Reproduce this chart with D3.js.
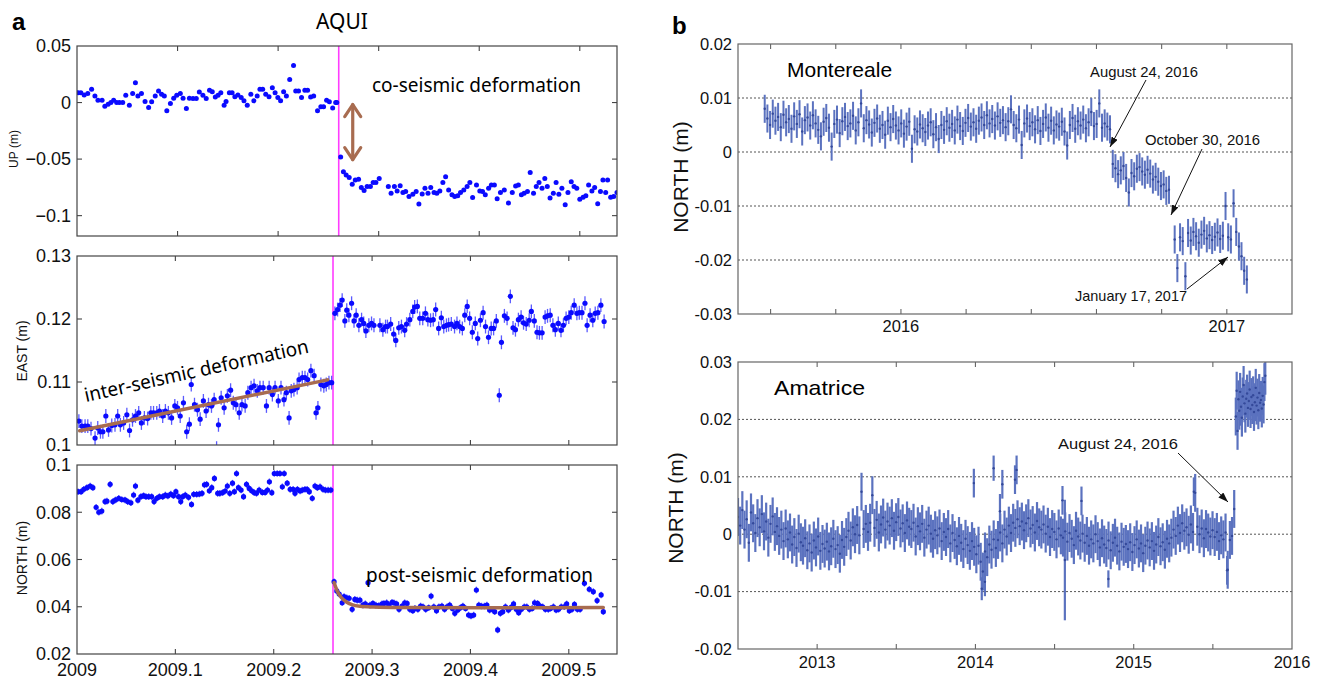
<!DOCTYPE html>
<html><head><meta charset="utf-8">
<script src="https://cdn.jsdelivr.net/npm/d3@7"></script>
<style>body{margin:0;background:#fff}svg{display:block}</style>
</head><body><svg id="c" width="1317" height="681"></svg>
<script>
// ---------------- DATA ----------------
// Panel a (AQUI, 2009): day-of-year and value (mm)
const aquiEventDay = 95;
const upPreDay = [0.4,1.4,2.6,3.9,5.3,6.5,7.6,9.1,10.1,11.3,12.3,13.3,14.4,15.4,16.6,17.7,19.0,20.2,21.2,22.1,23.4,24.7,26.0,27.1,28.4,29.6,30.7,31.7,32.6,33.9,35.1,36.2,37.5,38.5,39.7,40.8,42.1,43.3,44.4,45.7,46.9,48.1,49.1,50.2,51.2,52.2,53.4,54.1,55.3,56.3,57.3,58.4,59.6,60.6,61.8,63.1,64.2,65.4,66.4,67.4,68.5,69.7,70.9,71.9,72.9,73.9,75.0,76.0,77.2,78.6,79.4,80.4,81.5,82.7,83.7,84.8,85.9,87.3,88.5,89.5,90.6,91.6,92.8,93.9,94.3];
const upPreMm = [8.7,8.7,6.7,7.9,11.7,5.8,2.0,2.0,-3.2,-1.5,0,2.0,0,0,0,6.4,-2.3,7.9,17.5,5.8,7.9,0.9,-4.4,0.6,5.8,10.2,7.3,5.8,-7.3,-0.9,3.8,6.4,7.9,3.8,-5.2,3.8,3.5,3.5,9.3,6.4,3.5,10.8,9.6,5.0,6.4,8.7,-2.3,0.9,8.7,8.7,5.2,6.7,4.4,1.5,-2.3,7.3,1.5,5.8,11.7,11.7,7.3,5.2,13.1,8.7,4.4,1.5,9.6,5.8,20.4,32.7,10.2,10.2,4.4,10.8,10.8,5.0,5.8,-7.3,-3.8,-3.8,2.0,0.6,-4.9,0,0];
const upPostDay = [95.7,96.7,97.7,98.8,99.9,101.0,102.2,103.2,104.2,105.3,106.5,107.5,108.5,109.7,113.0,114.0,115.2,116.2,117.3,118.3,119.3,120.5,121.9,123.1,124.1,125.3,126.3,127.4,128.4,129.6,130.6,131.7,132.8,133.8,134.9,136.1,137.1,138.2,139.2,140.4,141.6,142.6,143.6,145.0,146.2,147.2,148.2,149.4,150.4,151.5,152.5,153.7,155.1,156.6,158.0,159.2,160.2,161.3,162.3,163.5,164.5,165.7,166.7,167.7,168.8,169.8,170.7,171.7,172.9,173.9,174.9,176.0,177.2,178.2,179.4,180.4,181.4,182.5,183.7,184.7,185.7,186.9,187.9,189.0,190.0,190.9,191.9,192.6,193.7,194.8,196.0];
const upPostMm = [-48.1,-61.2,-64.1,-66.2,-72.3,-68.5,-67.9,-75.2,-77.8,-74.3,-74.3,-70.8,-70.8,-67.1,-74.3,-80.2,-74.3,-78.1,-73.5,-79.6,-78.7,-83.1,-81.0,-78.7,-89.8,-80.8,-75.8,-80.2,-75.2,-79.6,-80.2,-78.1,-70.8,-65.6,-77.3,-81.6,-83.1,-82.5,-79.6,-77.3,-74.3,-70.8,-84.0,-72.9,-78.1,-78.7,-81.6,-75.8,-72.9,-72.9,-85.1,-79.6,-77.3,-88.9,-79.6,-73.8,-72.9,-81.6,-80.2,-78.7,-61.8,-80.2,-74.3,-70.8,-75.8,-67.1,-74.3,-84.5,-80.2,-70.8,-81.0,-75.8,-90.4,-79.6,-70.0,-74.3,-75.8,-85.4,-83.7,-82.5,-72.9,-78.1,-75.2,-89.5,-78.7,-68.5,-79.6,-68.5,-83.7,-83.1,-79.6];

const eastPreDay = [0.7,1.8,3.0,4.0,5.2,6.7,7.7,8.7,9.6,10.7,11.7,12.9,14.1,15.1,16.1,17.3,18.5,19.5,20.6,21.7,22.9,23.9,25.0,26.2,27.4,28.4,29.6,30.6,31.8,32.8,33.9,35.1,36.3,37.3,38.3,39.5,40.7,41.7,42.4,43.6,44.7,45.7,46.9,47.9,48.8,49.9,50.9,51.8,52.5,53.5,54.6,55.8,57.0,58.0,59.0,60.2,61.2,62.4,63.4,64.6,65.7,66.9,67.9,69.1,70.3,71.3,72.5,73.5,74.7,75.7,76.8,77.7,78.7,79.5,80.5,81.7,82.4,83.6,84.6,85.6,86.8,88.0,88.7,89.4,90.5,91.6,92.5,93.5,94.5];
const eastPreMm = [103.8,103.0,103.0,103.0,102.6,101.1,102.7,102.1,102.1,104.6,102.4,103.1,103.2,104.6,103.2,103.5,104.8,102.3,104.0,104.6,105.1,103.5,104.3,104.2,105.1,105.1,105.1,105.4,104.6,105.4,105.1,104.3,106.2,105.9,104.6,106.7,102.1,103.3,109.6,106.4,105.6,104.1,107.0,105.4,106.4,106.2,107.2,99.5,103.2,107.5,105.9,107.8,108.7,106.7,106.4,105.1,106.4,106.2,108.3,109.1,109.4,108.6,109.1,109.1,106.2,109.1,108.0,109.1,107.0,109.1,107.2,108.3,104.3,108.6,108.8,109.1,110.4,110.7,110.7,110.4,111.8,111.0,105.1,105.9,109.6,109.4,109.6,109.9,109.9];
const eastPostDay = [95.7,96.7,97.6,98.4,99.4,100.1,100.9,101.9,102.8,103.6,104.6,105.6,106.4,107.2,108.3,109.3,110.2,112.4,113.5,114.5,115.2,116.4,117.5,118.3,119.4,120.4,121.6,122.3,123.5,124.6,125.3,126.3,127.2,128.3,129.3,130.2,131.2,132.2,133.1,134.2,135.2,136.1,137.1,137.9,138.9,140.1,141.0,142.0,143.0,143.9,144.8,145.7,146.7,147.8,148.7,149.7,150.7,151.6,152.7,153.7,154.6,155.6,156.7,157.5,158.6,159.6,160.8,161.8,162.7,163.8,164.8,165.7,166.7,167.8,168.6,169.7,170.7,171.6,172.6,173.7,174.6,175.6,176.6,177.5,178.6,179.6,180.5,181.5,182.5,183.4,184.5,185.5,186.4,187.4,188.5,189.3,190.4,191.4,192.3,193.3,194.4,195.6];
const eastPostMm = [120.9,121.5,122.2,123.0,119.7,121.4,120.6,122.5,119.7,120.6,119.0,119.9,119.3,118.1,119.0,119.3,119.0,119.0,118.3,118.8,118.8,119.2,117.6,116.6,118.6,118.8,118.2,119.2,119.9,121.2,121.9,122.0,120.1,120.1,120.9,119.9,119.8,119.9,121.5,118.5,120.2,118.8,119.0,119.1,119.2,118.8,119.3,118.8,118.5,120.6,122.0,120.1,117.9,119.3,116.9,119.8,121.0,118.8,117.1,118.5,118.5,119.7,107.9,116.3,120.5,120.1,123.6,118.6,118.3,119.9,120.3,119.4,119.2,119.8,121.2,119.7,117.9,117.8,117.8,120.3,120.5,120.6,119.0,118.3,119.3,118.2,119.0,120.1,120.3,121.0,122.2,120.9,121.0,121.0,122.5,119.0,120.6,119.8,120.9,121.0,122.2,119.6];
const eastTrendDay = [1.0, 93.0];
const eastTrendMm = [102.25, 110.34];

const northPreDay = [0.4,1.5,2.5,3.7,4.9,5.9,7.1,8.1,9.2,10.4,11.1,12.3,13.3,14.3,15.5,16.6,17.8,18.8,20.0,21.0,21.7,22.6,23.7,24.7,25.6,26.6,27.7,28.6,29.6,30.6,31.8,32.8,33.7,34.8,35.8,36.7,37.7,38.5,39.2,40.2,41.4,42.5,43.3,44.4,45.4,46.4,47.3,48.1,49.1,50.0,51.0,52.2,53.0,54.0,55.0,55.8,56.7,57.7,58.4,59.2,59.9,60.9,61.8,62.9,63.9,64.8,65.8,66.6,67.6,68.8,69.8,70.7,71.4,72.3,73.2,74.3,75.3,76.2,76.9,78.0,79.1,80.2,80.9,81.8,82.8,83.6,84.6,85.4,86.2,87.3,88.3,89.2,90.2,91.3,92.2,93.2,94.2];
const northPreMm = [88.7,88.7,89.7,90.4,91.1,90.4,82.1,80.0,80.5,84.5,84.7,91.8,84.5,85.2,85.9,85.4,85.2,84.5,84.0,87.3,91.1,85.1,86.6,87.0,86.6,86.6,86.6,84.5,85.9,86.6,86.6,87.3,86.9,87.7,87.0,88.7,86.6,84.5,86.6,87.3,86.3,83.3,87.6,87.6,87.7,88.0,91.6,91.8,89.1,90.4,94.3,88.0,88.0,88.3,89.0,91.1,88.0,92.3,88.7,96.4,90.4,89.4,86.6,91.8,90.1,89.1,88.3,88.0,89.4,88.4,88.4,89.4,92.9,88.3,96.4,96.4,96.4,90.8,96.4,92.3,89.7,89.7,88.0,89.7,89.0,89.4,89.7,89.7,88.7,85.9,91.1,90.4,90.8,89.7,89.4,89.4,89.4];
const northPostDay = [95.4,96.4,97.3,98.4,99.1,100.1,101.0,102.1,103.1,104.0,105.0,106.1,107.0,108.0,108.7,109.8,110.9,112.0,113.2,113.9,114.9,115.8,116.9,117.6,118.6,119.5,120.6,121.6,122.5,123.5,124.6,125.4,126.5,127.5,128.4,129.4,130.5,131.4,132.4,133.4,134.3,135.4,136.4,137.3,138.3,139.3,140.2,141.3,142.3,143.2,144.2,145.3,146.2,147.2,148.2,149.1,150.1,151.2,152.1,153.1,154.1,155.0,156.1,157.1,158.0,159.0,160.1,160.9,162.0,163.0,163.9,164.9,166.0,166.9,167.9,168.9,169.8,170.9,171.9,172.8,173.8,174.9,175.7,176.8,177.8,178.7,179.7,180.8,181.7,182.7,183.7,184.6,185.7,186.7,188.3,190.1,191.6,193.0,194.5,195.3];
const northPostMm = [50.6,46.7,45.4,41.7,44.3,43.8,43.6,38.9,43.1,42.8,42.8,40.7,41.2,50.2,40.7,41.4,40.7,40.5,41.2,41.4,41.7,40.7,41.9,41.7,41.2,38.9,40.3,41.7,41.4,38.9,38.3,39.3,38.9,40.3,40.0,38.9,39.6,44.5,40.0,38.3,40.0,40.3,38.9,40.0,40.7,39.3,37.2,38.6,39.6,40.3,39.3,36.5,36.1,36.5,47.1,40.7,40.3,40.3,40.7,38.6,38.9,37.9,30.2,37.2,37.9,40.0,38.6,39.6,41.2,38.9,37.5,38.9,40.0,40.0,38.9,39.3,41.7,41.4,40.3,40.0,38.9,38.9,39.3,40.0,38.6,38.9,40.0,40.0,41.2,38.3,38.9,41.0,38.9,38.9,49.9,47.4,46.4,42.6,45.0,37.9];
const northFitDay = [95.4,96.5,98,100,102,105,110,120,150,195.3];
const northFitMm = [50.2,46.8,44.0,42.0,40.9,40.2,39.9,39.7,39.6,39.7];

const aXTicks = [2009, 2009.1, 2009.2, 2009.3, 2009.4, 2009.5];
const aXLabels = ["2009","2009.1","2009.2","2009.3","2009.4","2009.5"];
const upYTicks = [0.05, 0, -0.05, -0.1];
const upYLabels = ["0.05","0","\u22120.05","\u22120.1"];
const eastYTicks = [0.13, 0.12, 0.11, 0.1];
const eastYLabels = ["0.13","0.12","0.11","0.1"];
const northYTicks = [0.1, 0.08, 0.06, 0.04, 0.02];
const northYLabels = ["0.1","0.08","0.06","0.04","0.02"];

// Panel b: Montereale (mm, every 3 days from each segment start)
const montStart = [2015.582, 2016.65, 2016.84, 2017.045];
const montA = [8.0,6.2,5.0,7.1,5.8,6.5,4.6,6.9,5.5,6.1, 4.3,6.6,5.2,7.0,3.8,5.9,6.4,4.9,6.8,5.3, 4.1,2.9,5.6,6.3,4.5,1.0,5.2,6.0,3.5,5.7, 6.5,4.8,5.3,6.7,4.0,5.5,9.0,4.4,5.9,5.1, 3.6,5.4,6.2,4.3,5.0,3.2,5.8,4.6,6.1,4.9, 4.0,5.3,3.4,4.7,5.6,0.6,4.2,3.8,5.1,4.4, 3.7,4.9,5.5,3.3,4.6,2.4,5.0,4.1,5.7,4.5, 5.2,4.0,6.0,4.8,3.9,5.4,6.3,4.7,5.5,4.3, 5.8,6.4,5.0,6.8,5.3,6.1,4.9,6.6,5.4,5.9, 4.6,5.7,7.9,5.0,4.4,6.0,1.3,5.3,6.2,4.8, 5.5,4.2,5.9,3.9,5.2,6.4,4.5,5.8,4.0,5.1, 4.7,5.6,3.8,1.2,5.0,6.3,4.3,5.7,4.9,6.0, 4.4,5.5,7.4,4.8,5.2,9.0,4.5,5.3,4.7,4.2];
const montB = [-2.2,-3.0,-4.1,-3.4,-2.6,-4.8,-7.5,-3.9,-4.5,-3.1,-2.8,-3.6,-4.2,-3.3,-4.0,-5.1,-4.6,-5.5,-6.3,-6.0,-7.2,-7.0];
const montC = [-16.2,-21.5,-15.8,-16.5,-23.0,-15.0,-16.4,-14.8,-15.6,-16.8,-15.3,-14.6,-16.0,-15.4,-16.3,-15.7,-14.9,-16.1,-15.5,-10.0,-15.8,-16.2,-9.5,-14.8,-17.5];
const montD = [-19.3,-22.0,-23.6];
const montStepDays = 3;
const montSigmaMm = 2.6;
const montXTicks = [2015.6, 2015.8, 2016, 2016.2, 2016.4, 2016.6, 2016.8, 2017];
const montXLabels = ["", "", "2016", "", "", "", "", "2017"];
const montYTicks = [0.02, 0.01, 0, -0.01, -0.02, -0.03];
const montYLabels = ["0.02","0.01","0","-0.01","-0.02","-0.03"];

// Panel b: Amatrice (mm)
const amaLowStart = 2012.5, amaLowStepDays = 5;
const amaLow = [3.0,1.5,4.2,0.8,2.6,-1.5,3.8,1.9,0.2,2.8, 1.2,3.5,0.5,2.2,-0.6,1.8,3.1,0.4,1.4,-0.3, 0.8,-1.2,1.0,-0.9,0.3,-1.8,-0.5,-2.4,0.1,-1.4, -2.0,-0.7,-2.8,-1.6,-3.2,-1.1,-2.3,-0.4,-2.9,-1.7, -2.5,-1.3,-3.0,-2.1,-0.8,-2.6,-1.9,-3.4,-1.0,-2.2, -0.5,0.6,-1.1,1.2,0.0,1.6,-0.2,7.4,0.9,1.8, 0.4,2.0,6.8,1.1,2.5,0.3,1.7,2.9,0.8,2.2, 1.5,2.8,0.6,2.1,3.0,1.0,1.9,0.2,2.4,1.3, 0.9,2.0,-0.4,1.4,0.5,1.8,-0.6,0.8,1.5,0.1, -0.8,0.7,-0.2,1.0,-1.2,0.4,-0.5,0.9,-1.6,0.2, -1.0,-2.1,-0.3,-1.5,-2.6,-0.8,-1.9,-2.9,-1.2,-2.2, -3.5,-2.0,-4.8,-6.5,-3.0,-4.0,-1.8,-2.7,-0.9,-2.4, -1.0,0.3,-1.6,0.8,-0.4,1.5,0.2,2.0,1.1,2.6, 1.4,2.2,0.7,1.9,2.8,1.0,1.6,0.3,2.3,1.2, 0.8,1.7,0.1,1.3,-0.5,0.9,0.4,-0.9,1.0,-0.2, -0.6,0.5,-1.3,0.2,-0.8,-1.9,0.6,-0.4,-1.1,0.1, -1.5,-0.3,-2.0,-0.9,-1.6,0.0,-1.2,-2.3,-0.7,-1.8, -2.4,-1.1,-2.8,-1.5,-0.6,-2.0,-3.0,-1.3,-2.2,-1.7, -2.6,-1.4,-3.1,-1.9,-0.9,-2.5,-1.6,-3.3,-2.0,-1.1, -2.3,-1.2,-2.9,-1.8,-0.5,-2.1,-1.4,-2.7,-0.8,-1.6, -0.6,0.8,-0.3,1.5,0.2,1.9,0.6,1.2,-0.1,1.7, 0.4,7.2,1.3,0.0,1.0,-0.7,0.9,0.3,-0.4,0.7, -0.5,0.4,-1.2,-0.2,-0.9,0.3,-6.2,-1.0,-0.3,4.4];
const amaHighStart = 2015.645, amaHighStepDays = 2;
const amaHigh = [20.5,25.0,18.0,23.5,21.5,24.8,22.2,20.3,24.0,26.0,22.8,21.0,23.6,24.5,22.0,23.2,25.2,21.8,23.9,22.5,24.2,21.3,23.0,25.5,22.4,23.8,21.6,24.6,22.9,23.4,21.9,24.1,22.6,26.5,27.6];
const amaSigmaMm = 3.3;
const amaOutT = [2013.99,2014.04,2014.06,2014.115,2014.155,2014.17,2014.25,2014.26,2014.55,2014.565,2014.67,2014.84,2015.38,2015.59];
const amaOutMm = [8.9,-9.5,-8.3,11.5,4.0,8.7,9.5,11.2,5.9,-4.5,5.8,-7.8,7.4,-6.3];
const amaOutSigmaMm = [2.5,2.0,2.5,2.2,3.0,2.5,2.5,2.5,2.5,10.5,2.5,1.5,2.5,2.5];
const amaXTicks = [2013, 2013.5, 2014, 2014.5, 2015, 2015.5, 2016];
const amaXLabels = ["2013","","2014","","2015","","2016"];
const amaYTicks = [0.03, 0.02, 0.01, 0, -0.01, -0.02];
const amaYLabels = ["0.03","0.02","0.01","0","-0.01","-0.02"];

// ---------------- DRAW ----------------
const svg = d3.select('#c');
const defs = svg.append('defs');
const ARIAL = "'Liberation Sans', Arial, Helvetica, sans-serif";
const NOTO = "'Noto Sans', 'Open Sans', sans-serif";
defs.append('marker').attr('id','ah').attr('viewBox','0 0 10 7').attr('refX',10).attr('refY',3.5)
  .attr('markerWidth',10).attr('markerHeight',7).attr('markerUnits','userSpaceOnUse').attr('orient','auto')
  .append('path').attr('d','M0,0L10,3.5L0,7Z').attr('fill','#111');

const dayToYear = d => 2009 + d/365;
const toPts = (days, mm, s) => days.map((d,i)=>({t:dayToYear(d), v:mm[i]/1000, s:s/1000}));

let clipN = 0;
function frame(o){
  const x = d3.scaleLinear().domain(o.xd).range([o.x0,o.x1]);
  const y = d3.scaleLinear().domain(o.yd).range([o.y1,o.y0]);
  const g = svg.append('g');
  const id = 'clip'+(clipN++);
  defs.append('clipPath').attr('id',id).append('rect')
    .attr('x',o.x0).attr('y',o.y0).attr('width',o.x1-o.x0).attr('height',o.y1-o.y0);
  const tk = o.tick;
  if (o.grid) {
    g.append('g').selectAll('line').data(o.yTicks.filter(v=>v>o.yd[0]+1e-9 && v<o.yd[1]-1e-9)).join('line')
      .attr('x1',o.x0).attr('x2',o.x1).attr('y1',d=>y(d)).attr('y2',d=>y(d))
      .attr('stroke','#555').attr('stroke-width',1).attr('stroke-dasharray','2,2');
  }
  const data = g.append('g').attr('clip-path',`url(#${id})`);
  g.append('rect').attr('x',o.x0).attr('y',o.y0).attr('width',o.x1-o.x0).attr('height',o.y1-o.y0)
    .attr('fill','none').attr('stroke',o.boxColor).attr('stroke-width',1.2);
  const tx = o.xTicks.filter(v=>v>o.xd[0]+1e-9 && v<o.xd[1]-1e-9);
  const ty = o.yTicks.filter(v=>v>o.yd[0]+1e-9 && v<o.yd[1]-1e-9);
  const tg = g.append('g').attr('stroke',o.boxColor).attr('stroke-width',1.1);
  tx.forEach(v=>{
    tg.append('line').attr('x1',x(v)).attr('x2',x(v)).attr('y1',o.y1).attr('y2',o.y1-tk);
    tg.append('line').attr('x1',x(v)).attr('x2',x(v)).attr('y1',o.y0).attr('y2',o.y0+tk);
  });
  if (!o.grid) ty.forEach(v=>{
    tg.append('line').attr('x1',o.x0).attr('x2',o.x0+tk).attr('y1',y(v)).attr('y2',y(v));
    tg.append('line').attr('x1',o.x1).attr('x2',o.x1-tk).attr('y1',y(v)).attr('y2',y(v));
  });
  g.append('g').selectAll('text').data(o.yTicks).join('text')
    .attr('x',o.x0-o.yPad).attr('y',d=>y(d)).attr('dy','0.35em').attr('text-anchor','end')
    .attr('font-family',ARIAL).attr('font-size',o.tickFont).attr('fill','#111')
    .text((d,i)=>o.yLabels[i]);
  if (o.xLabels) {
    g.append('g').selectAll('text').data(o.xTicks).join('text')
      .attr('x',d=>x(d)).attr('y',o.xLabelY).attr('text-anchor','middle')
      .attr('font-family',ARIAL).attr('font-size',o.tickFont).attr('fill','#111')
      .text((d,i)=>o.xLabels[i]);
  }
  return {x,y,g,data};
}

function drawPts(layer, x, y, pts, st){
  if (st.bar) layer.append('g').selectAll('line').data(pts).join('line')
    .attr('x1',d=>x(d.t)).attr('x2',d=>x(d.t)).attr('y1',d=>y(d.v-d.s)).attr('y2',d=>y(d.v+d.s))
    .attr('stroke',st.barColor).attr('stroke-width',st.barW).attr('stroke-opacity',st.barOp||1);
  layer.append('g').selectAll('circle').data(pts).join('circle')
    .attr('cx',d=>x(d.t)).attr('cy',d=>y(d.v)).attr('r',st.r).attr('fill',st.color);
}

// ----- Panel a -----
const AX0 = 77, AX1 = 617;
const aStyleBase = {x0:AX0, x1:AX1, tick:5, boxColor:'#444', yPad:6, tickFont:18, xTicks:aXTicks};
const EV = dayToYear(aquiEventDay);
const MAG = '#ff3cff', BROWN = '#a86c50', BLUE = '#0a0aff', LBLUE = '#5a5aff';

const up = frame(Object.assign({}, aStyleBase, {y0:46, y1:236, xd:[2009,2009.537], yd:[-0.118,0.05], yTicks:upYTicks, yLabels:upYLabels}));
up.data.append('line').attr('x1',up.x(EV)).attr('x2',up.x(EV)).attr('y1',46).attr('y2',236).attr('stroke',MAG).attr('stroke-width',1.6);
drawPts(up.data, up.x, up.y, toPts(upPreDay, upPreMm, 0).concat(toPts(upPostDay, upPostMm, 0)), {r:2.5, color:BLUE});

const east = frame(Object.assign({}, aStyleBase, {y0:256, y1:445, xd:[2009,2009.549], yd:[0.1,0.13], yTicks:eastYTicks, yLabels:eastYLabels}));
east.data.append('line').attr('x1',east.x(EV)).attr('x2',east.x(EV)).attr('y1',256).attr('y2',445).attr('stroke',MAG).attr('stroke-width',1.6);
drawPts(east.data, east.x, east.y, toPts(eastPreDay, eastPreMm, 1.1).concat(toPts(eastPostDay, eastPostMm, 1.1)), {r:2.6, color:BLUE, bar:true, barColor:LBLUE, barW:1.3});
east.data.append('path').datum(eastTrendDay.map((d,i)=>[dayToYear(d), eastTrendMm[i]/1000]))
  .attr('d', d3.line().x(d=>east.x(d[0])).y(d=>east.y(d[1]))).attr('fill','none').attr('stroke',BROWN).attr('stroke-width',3.5).attr('stroke-linecap','round');

const north = frame(Object.assign({}, aStyleBase, {y0:465, y1:654, xd:[2009,2009.549], yd:[0.02,0.1], yTicks:northYTicks, yLabels:northYLabels, xLabels:aXLabels, xLabelY:676}));
north.data.append('line').attr('x1',north.x(EV)).attr('x2',north.x(EV)).attr('y1',465).attr('y2',654).attr('stroke',MAG).attr('stroke-width',1.6);
drawPts(north.data, north.x, north.y, toPts(northPreDay, northPreMm, 1.4).concat(toPts(northPostDay, northPostMm, 1.4)), {r:2.6, color:BLUE, bar:true, barColor:LBLUE, barW:1.3});
north.data.append('path').datum(northFitDay.map((d,i)=>[dayToYear(d), northFitMm[i]/1000]))
  .attr('d', d3.line().curve(d3.curveMonotoneX).x(d=>north.x(d[0])).y(d=>north.y(d[1]))).attr('fill','none').attr('stroke',BROWN).attr('stroke-width',3.5).attr('stroke-linecap','round');

svg.append('text').attr('x',12).attr('y',30).attr('font-family',ARIAL).attr('font-weight','bold').attr('font-size',24).text('a');
svg.append('text').attr('x',342).attr('y',29).attr('text-anchor','middle').attr('font-family',NOTO).attr('font-size',21).text('AQUI');
const ylab = (txt, xx, yy, fs) => svg.append('text').attr('transform',`translate(${xx},${yy}) rotate(-90)`).attr('text-anchor','middle')
  .attr('font-family',ARIAL).attr('font-size',fs).attr('fill','#111').text(txt);
ylab('UP (m)', 18, 149, 12);
ylab('EAST (m)', 27, 351, 14);
ylab('NORTH (m)', 27, 558, 14);
svg.append('text').attr('x',372).attr('y',92).attr('font-family',NOTO).attr('font-size',19).attr('textLength',209).attr('lengthAdjust','spacingAndGlyphs').text('co-seismic deformation');
svg.append('text').attr('transform','translate(86,402) rotate(-12.5)').attr('font-family',NOTO).attr('font-size',19.5).attr('textLength',229).attr('lengthAdjust','spacingAndGlyphs').text('inter-seismic deformation');
svg.append('text').attr('x',366).attr('y',582).attr('font-family',NOTO).attr('font-size',19).attr('textLength',227).attr('lengthAdjust','spacingAndGlyphs').text('post-seismic deformation');
const arx = up.x(EV) + 14;
const ary0 = up.y(0) + 2, ary1 = up.y(-0.0505);
const arr = svg.append('g').attr('stroke',BROWN).attr('stroke-width',3.2).attr('fill','none').attr('stroke-linecap','round').attr('stroke-linejoin','round');
arr.append('line').attr('x1',arx).attr('x2',arx).attr('y1',ary0).attr('y2',ary1);
arr.append('path').attr('d',`M${arx-8},${ary0+12}L${arx},${ary0}L${arx+8},${ary0+12}`);
arr.append('path').attr('d',`M${arx-8},${ary1-12}L${arx},${ary1}L${arx+8},${ary1-12}`);

// ----- Panel b -----
const BX0 = 738, BX1 = 1292;
const bBase = {x0:BX0, x1:BX1, tick:5, boxColor:'#666', yPad:6, tickFont:16.5, grid:true};
const PB = '#34499a', PBL = '#5b72bf';

const mont = frame(Object.assign({}, bBase, {y0:44, y1:314, xd:[2015.5,2017.2], yd:[-0.03,0.02], yTicks:montYTicks, yLabels:montYLabels, xTicks:montXTicks, xLabels:montXLabels, xLabelY:332}));
const montPts = [];
[montA, montB, montC, montD].forEach((seg, k) => seg.forEach((v,i)=>montPts.push({t:montStart[k] + i*montStepDays/365.25, v:v/1000, s:montSigmaMm/1000})));
drawPts(mont.data, mont.x, mont.y, montPts, {r:1.2, color:PB, bar:true, barColor:PBL, barW:2.0});

const ama = frame(Object.assign({}, bBase, {y0:362, y1:649, xd:[2012.5,2016], yd:[-0.02,0.03], yTicks:amaYTicks, yLabels:amaYLabels, xTicks:amaXTicks, xLabels:amaXLabels, xLabelY:668}));
const amaPts = amaLow.map((v,i)=>({t:amaLowStart + i*amaLowStepDays/365.25, v:v/1000, s:amaSigmaMm/1000}))
  .concat(amaHigh.map((v,i)=>({t:amaHighStart + i*amaHighStepDays/365.25, v:v/1000, s:amaSigmaMm/1000})))
  .concat(amaOutT.map((t,i)=>({t:t, v:amaOutMm[i]/1000, s:amaOutSigmaMm[i]/1000})));
drawPts(ama.data, ama.x, ama.y, amaPts, {r:1.2, color:PB, bar:true, barColor:PBL, barW:2.2});

svg.append('text').attr('x',672).attr('y',34).attr('font-family',ARIAL).attr('font-weight','bold').attr('font-size',24).text('b');
ylab('NORTH (m)', 688, 177, 21);
ylab('NORTH (m)', 683, 508, 21);
svg.append('text').attr('x',787).attr('y',77).attr('font-family',ARIAL).attr('font-size',21).text('Montereale');
svg.append('text').attr('x',774).attr('y',395).attr('font-family',ARIAL).attr('font-size',21).attr('textLength',91).attr('lengthAdjust','spacingAndGlyphs').text('Amatrice');

const ann = (txt, tx, ty, w) => svg.append('text').attr('x',tx).attr('y',ty).attr('font-family',ARIAL).attr('font-size',15)
  .attr('textLength',w).attr('lengthAdjust','spacingAndGlyphs').attr('fill','#111').text(txt);
const arrow = (x1,y1,x2,y2) => svg.append('line').attr('x1',x1).attr('y1',y1).attr('x2',x2).attr('y2',y2)
  .attr('stroke','#111').attr('stroke-width',1).attr('marker-end','url(#ah)');
ann('August 24, 2016', 1090, 77, 108); arrow(1146, 80, 1110, 147);
ann('October 30, 2016', 1145, 145, 115); arrow(1202, 149, 1171, 215);
ann('January 17, 2017', 1075, 301, 112); arrow(1187, 289, 1228, 257);
ann('August 24, 2016', 1058, 449, 120); arrow(1178, 453, 1228, 502);
</script>
</body></html>
